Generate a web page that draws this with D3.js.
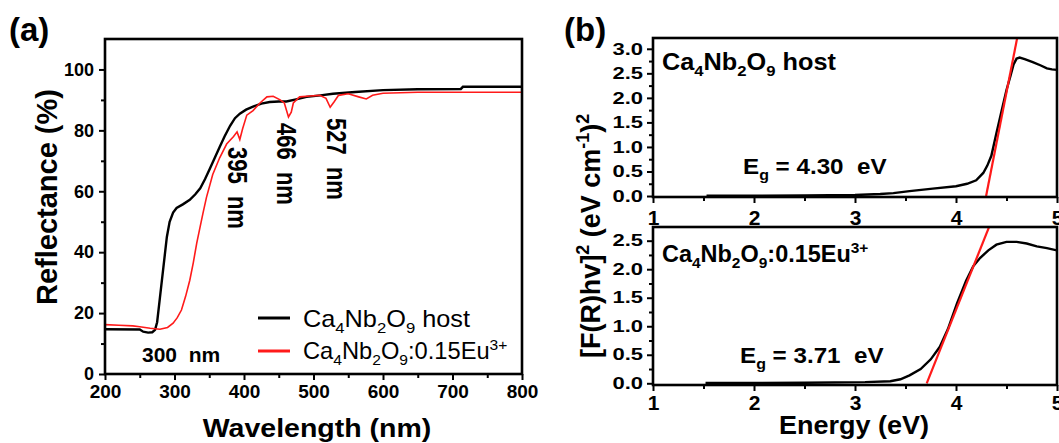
<!DOCTYPE html>
<html>
<head>
<meta charset="utf-8">
<script src="https://d3js.org/d3.v7.min.js"></script>
<style>
  body { margin: 0; background: #fff; }
  text { font-family: Arial, "Liberation Sans", sans-serif; fill: #000; }
</style>
</head>
<body>
<svg id="chart" width="1059" height="443"></svg>
<script>
// ---------- data ----------
// (a) diffuse reflectance
const wlHost = [200,250,255,262,268,272,275,279,284,289,293,298,303,312,322,330,337,344,351,358,365,372,380,387,394,403,413,425,437,450,461,475,490,510,528,560,600,650,712,715,800];
const rHost  = [14.7,14.6,13.9,13.6,13.7,14.5,17,25,35,45,50,53,54.5,55.7,57.2,59,61,64,67.5,71,74.5,78,81.5,84,85.5,86.8,87.8,88.8,89.3,89.5,89.5,90.2,91,91.5,92,92.6,93.2,93.5,93.6,94.3,94.3];
const wlEu = [200,220,240,250,265,279,290,298,304,310,316,322,327,332,337,341,346,355,365,375,385,390,394,398,404,413,423,433,442,452,458,464,468,471,480,495,509,518,524,530,536,550,565,576,585,600,650,800];
const rEu  = [16.2,16,15.8,15.5,15,14.7,15.3,16.7,18.5,21,25.5,30.8,36.5,43,48.5,52.8,58,65.5,71,75.5,78,79.5,77,80.5,85,86.5,89,91,91.2,90,89,84.4,86,89,91,91.3,91.5,90.5,87.6,89.5,91.5,92,91,90.3,91.5,92.2,92.5,92.5];
const peakLabels = ["395  nm", "466  nm", "527  nm"];
const wlTicks = [200,300,400,500,600,700,800];
const wlMinor = [250,350,450,550,650,750];
const rTicks = [0,20,40,60,80,100];
const rMinor = [10,30,50,70,90];

// (b) Kubelka-Munk plots
const eHost = [1.53,2.5,3.0,3.25,3.38,3.54,3.77,4.0,4.11,4.2,4.27,4.31,4.35,4.40,4.45,4.50,4.54,4.57,4.60,4.63,4.68,4.76,4.84,4.90,4.95,5.0];
const kmHost = [0.005,0.01,0.02,0.04,0.06,0.1,0.15,0.2,0.25,0.32,0.47,0.62,0.82,1.28,1.72,2.16,2.45,2.68,2.8,2.82,2.79,2.73,2.66,2.6,2.58,2.57];
const eEu = [1.52,2.5,3.1,3.35,3.45,3.54,3.65,3.75,3.84,3.92,4.01,4.1,4.17,4.24,4.32,4.40,4.5,4.6,4.7,4.8,4.9,5.0];
const kmEu = [0.005,0.01,0.02,0.035,0.07,0.14,0.25,0.42,0.64,0.95,1.4,1.8,2.05,2.2,2.33,2.43,2.48,2.48,2.45,2.4,2.37,2.33];
const fitHost = [[4.298,0], [4.62,3.37]];
const fitEu = [[3.71,0], [4.35,2.84]];
const eTicks = [1,2,3,4,5];
const eMinor = [1.5,2.5,3.5,4.5];
const kmTicksTop = [0,0.5,1,1.5,2,2.5,3];
const kmMinorTop = [0.25,0.75,1.25,1.75,2.25,2.75];
const kmTicksBot = [0,0.5,1,1.5,2,2.5];
const kmMinorBot = [0.25,0.75,1.25,1.75,2.25];
const egLabels = ["4.30", "3.71"];

const formulaHost = [["Ca"],["4","sub"],["Nb"],["2","sub"],["O"],["9","sub"],[" host"]];
const formulaEu = [["Ca"],["4","sub"],["Nb"],["2","sub"],["O"],["9","sub"],[":0.15Eu"],["3+","sup"]];

// ---------- helpers ----------
const svg = d3.select("#chart");

function rich(g, x, y, parts, fs, weight, extra) {
  const t = g.append("text")
    .attr("transform", "translate(" + x + "," + y + ")" + (extra || ""))
    .attr("font-size", fs)
    .attr("font-weight", weight)
    .style("white-space", "pre");
  let shift = 0;
  parts.forEach(function(p) {
    const kind = p[1];
    const sh = kind == "sub" ? fs * 0.28 : kind == "sup" ? -fs * 0.4 : 0;
    t.append("tspan")
      .attr("font-size", kind ? fs * 0.66 : fs)
      .attr("dy", sh - shift)
      .text(p[0]);
    shift = sh;
  });
  return t;
}

function styleAxis(g, fs, sy) {
  g.select(".domain").remove();
  g.selectAll(".tick line").attr("stroke", "#000").attr("stroke-width", 2);
  g.selectAll(".tick text")
    .attr("font-size", fs)
    .attr("font-weight", "bold")
    .attr("font-family", "Arial, 'Liberation Sans', sans-serif")
    .attr("fill", "#000");
  if (sy) g.selectAll(".tick text").attr("transform", "scale(1," + sy + ")");
}

function minorAxis(g, axis) {
  g.call(axis);
  g.select(".domain").remove();
  g.selectAll(".tick line").attr("stroke", "#000").attr("stroke-width", 2);
  g.selectAll(".tick text").remove();
}

function frame(x0, x1, y0, y1) {
  svg.append("rect")
    .attr("x", x0).attr("y", y0)
    .attr("width", x1 - x0).attr("height", y1 - y0)
    .attr("fill", "none").attr("stroke", "#000").attr("stroke-width", 2.6);
}

// ---------- panel (a) ----------
const xa = d3.scaleLinear().domain([200, 800]).range([105, 522]);
const ya = d3.scaleLinear().domain([0, 110]).range([374, 39]);

const lineA = d3.line().x(function(d) { return xa(d[0]); }).y(function(d) { return ya(d[1]); });

svg.append("path")
  .datum(d3.zip(wlHost, rHost))
  .attr("d", lineA)
  .attr("fill", "none").attr("stroke", "#000").attr("stroke-width", 2.4);
svg.append("path")
  .datum(d3.zip(wlEu, rEu))
  .attr("d", lineA)
  .attr("fill", "none").attr("stroke", "#ff1a1a").attr("stroke-width", 1.6);

const axA = svg.append("g").attr("transform", "translate(0,374)")
  .call(d3.axisBottom(xa).tickValues(wlTicks).tickSize(6).tickSizeOuter(0).tickPadding(5));
styleAxis(axA, 19);
minorAxis(svg.append("g").attr("transform", "translate(0,374)"),
  d3.axisBottom(xa).tickValues(wlMinor).tickSize(4));

const ayA = svg.append("g").attr("transform", "translate(105,0)")
  .call(d3.axisLeft(ya).tickValues(rTicks).tickSize(6).tickSizeOuter(0).tickPadding(5));
styleAxis(ayA, 18);
minorAxis(svg.append("g").attr("transform", "translate(105,0)"),
  d3.axisLeft(ya).tickValues(rMinor).tickSize(4));

frame(105, 522, 39, 374);

// peak labels
const peakPos = [[228, 147], [277, 123], [327, 118]];
peakLabels.forEach(function(s, i) {
  svg.append("text")
    .attr("transform", "translate(" + peakPos[i][0] + "," + peakPos[i][1] + ") rotate(90) scale(1,1.25)")
    .attr("font-size", 22).attr("font-weight", "bold")
    .style("white-space", "pre")
    .text(s);
});

svg.append("text")
  .attr("x", 142).attr("y", 362)
  .attr("font-size", 21).attr("font-weight", "bold")
  .style("white-space", "pre")
  .text("300  nm");

// legend
svg.append("line").attr("x1", 258).attr("x2", 290).attr("y1", 318).attr("y2", 318)
  .attr("stroke", "#000").attr("stroke-width", 3);
svg.append("line").attr("x1", 258).attr("x2", 290).attr("y1", 351).attr("y2", 351)
  .attr("stroke", "#ff1a1a").attr("stroke-width", 3);
rich(svg, 303, 327, formulaHost, 23, "normal", " scale(1.1,1)");
rich(svg, 303, 359, formulaEu, 23, "normal", " scale(1.03,1)");

// titles
svg.append("text")
  .attr("transform", "translate(57,197) rotate(-90)")
  .attr("text-anchor", "middle")
  .attr("font-size", 29).attr("font-weight", "bold")
  .text("Reflectance (%)");
svg.append("text")
  .attr("transform", "translate(317,437) scale(1.14,1)")
  .attr("text-anchor", "middle")
  .attr("font-size", 25).attr("font-weight", "bold")
  .text("Wavelength (nm)");
svg.append("text")
  .attr("x", 9).attr("y", 41)
  .attr("font-size", 33).attr("font-weight", "bold")
  .text("(a)");

// ---------- panel (b) ----------
const xb = d3.scaleLinear().domain([1, 5]).range([653, 1057]);
const yTop = d3.scaleLinear().domain([-0.02, 3.22]).range([197, 38]);
const yBot = d3.scaleLinear().domain([-0.03, 2.74]).range([385, 227]);

svg.append("clipPath").attr("id", "clipTop")
  .append("rect").attr("x", 653).attr("y", 38).attr("width", 404).attr("height", 159);
svg.append("clipPath").attr("id", "clipBot")
  .append("rect").attr("x", 653).attr("y", 227).attr("width", 404).attr("height", 158);

function subPlot(ys, y0, y1, es, kms, fit, ticks, minor, clip, labelPad) {
  const ln = d3.line().x(function(d) { return xb(d[0]); }).y(function(d) { return ys(d[1]); });
  const g = svg.append("g").attr("clip-path", "url(#" + clip + ")");
  g.append("path").datum(d3.zip(es, kms)).attr("d", ln)
    .attr("fill", "none").attr("stroke", "#000").attr("stroke-width", 2.4);
  g.append("path").datum(fit).attr("d", ln)
    .attr("fill", "none").attr("stroke", "#ff1a1a").attr("stroke-width", 2.2);

  const ax = svg.append("g").attr("transform", "translate(0," + y1 + ")")
    .call(d3.axisBottom(xb).tickValues(eTicks).tickSize(6).tickSizeOuter(0).tickPadding(labelPad)
      .tickFormat(d3.format("d")));
  styleAxis(ax, 21);
  minorAxis(svg.append("g").attr("transform", "translate(0," + y1 + ")"),
    d3.axisBottom(xb).tickValues(eMinor).tickSize(4));

  const ay = svg.append("g").attr("transform", "translate(653,0)")
    .call(d3.axisLeft(ys).tickValues(ticks).tickSize(6).tickSizeOuter(0).tickPadding(4)
      .tickFormat(d3.format(".1f")));
  styleAxis(ay, 22, 0.74);
  minorAxis(svg.append("g").attr("transform", "translate(653,0)"),
    d3.axisLeft(ys).tickValues(minor).tickSize(4));

  frame(653, 1057, y0, y1);
}

subPlot(yTop, 38, 197, eHost, kmHost, fitHost, kmTicksTop, kmMinorTop, "clipTop", 7);
subPlot(yBot, 227, 385, eEu, kmEu, fitEu, kmTicksBot, kmMinorBot, "clipBot", 4);

rich(svg, 662, 70, formulaHost, 23, "bold", " scale(1.1,1)");
rich(svg, 662, 262, formulaEu, 23, "bold", " scale(1.02,1)");

rich(svg, 743, 174, [["E"],["g","sub"],[" = " + egLabels[0] + "  eV"]], 22, "bold", " scale(1.1,1)");
rich(svg, 740, 363, [["E"],["g","sub"],[" = " + egLabels[1] + "  eV"]], 22, "bold", " scale(1.1,1)");

// y title of (b)
rich(svg, 600, 236, [["[F(R)hv]"],["2","sup"],[" (eV cm"],["-1","sup"],[")"],["2","sup"]], 27, "bold", " rotate(-90)")
  .attr("text-anchor", "middle");

svg.append("text")
  .attr("transform", "translate(854,434) scale(1.08,1)")
  .attr("text-anchor", "middle")
  .attr("font-size", 25).attr("font-weight", "bold")
  .text("Energy (eV)");
svg.append("text")
  .attr("x", 564).attr("y", 41)
  .attr("font-size", 33).attr("font-weight", "bold")
  .text("(b)");
</script>
</body>
</html>
